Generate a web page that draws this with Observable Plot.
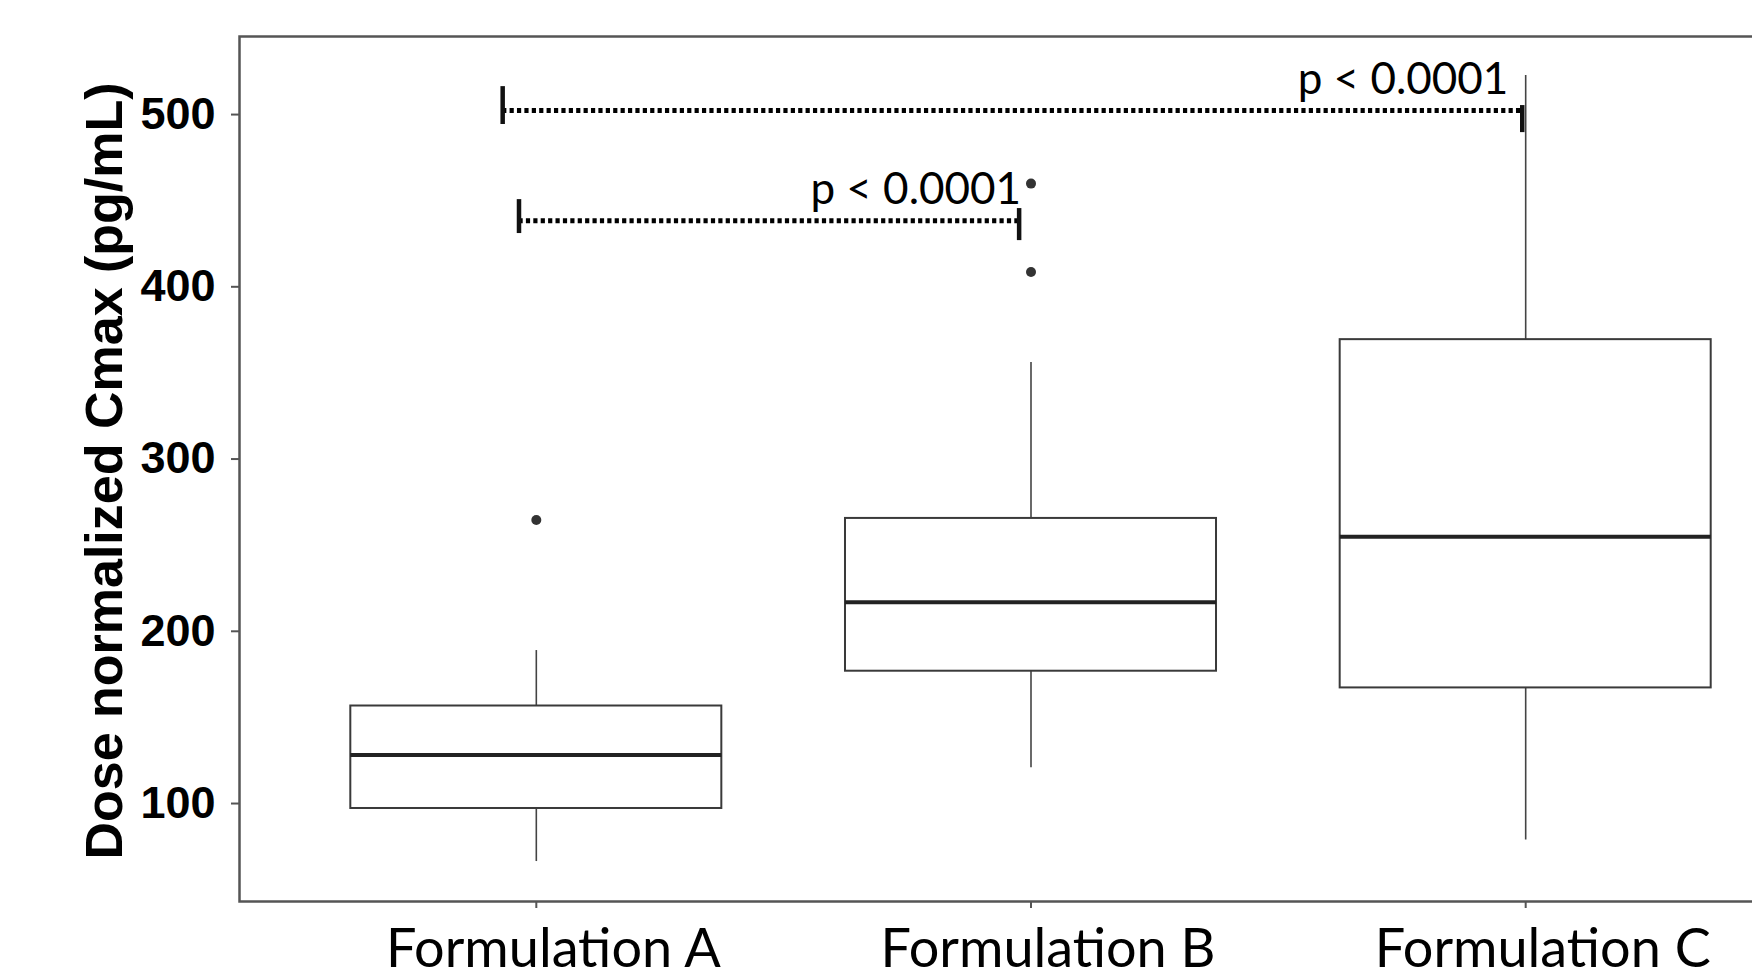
<!DOCTYPE html>
<html>
<head>
<meta charset="utf-8">
<script src="https://cdn.jsdelivr.net/npm/d3@7"></script>
<script src="https://cdn.jsdelivr.net/npm/@observablehq/plot@0.6"></script>
<style>
  html, body { margin: 0; padding: 0; background: #fff; overflow: hidden; }
  #chart svg { display: block; overflow: hidden; }
</style>
</head>
<body>
<div id="chart"></div>
<script>
// Categories and their positions on the discrete axis
const categories = ["Formulation A", "Formulation B", "Formulation C"];
const positions = [1, 2, 3];

// Box-plot summary statistics (pg/mL)
const whiskerLow  = [64.0, 118.5, 76.5];
const q1          = [94.8, 174.5, 164.8];
const median      = [125.8, 214.5, 252.5];
const q3          = [154.3, 263.2, 367.0];
const whiskerHigh = [186.5, 353.7, 520.3];

// Outliers
const outlierGroup = [1, 2, 2];
const outlierValue = [262.3, 406.3, 457.6];

// Y tick values
const yTicks = [100, 200, 300, 400, 500];
const yTitle = "Dose normalized Cmax (pg/mL)";

// Significance brackets (x in category units, y in pg/mL)
const bracketFrom   = [0.932, 0.965];
const bracketTo     = [2.993, 1.976];
const bracketValue  = [500, 436.1];
const leftTickLow   = [491.9, 428.6];
const leftTickHigh  = [513.9, 448.3];
const rightTickLow  = [487.2, 424.5];
const rightTickHigh = [502.9, 443.1];
const bracketLabel  = ["p < 0.0001", "p < 0.0001"];
const labelX        = [2.965, 1.98];
const labelY        = [509.9, 446.0];

const idx = d3.range(categories.length);
const bIdx = d3.range(bracketLabel.length);
const oIdx = d3.range(outlierValue.length);

const boldSans = "'Liberation Sans', Arial, Helvetica, sans-serif";
const lightSans = "Lato, 'Open Sans', sans-serif";

const chart = Plot.plot({
  width: 1752,
  height: 978,
  marginLeft: 239,
  marginRight: -70,
  marginTop: 36,
  marginBottom: 77,
  style: {background: "#fff"},
  x: {domain: [0.4, 3.6], axis: null},
  y: {domain: [40.8, 543], axis: null},
  marks: [
    // whiskers
    Plot.ruleX(idx, {x: i => positions[i], y1: i => q3[i], y2: i => whiskerHigh[i], stroke: "#444", strokeWidth: 1.6}),
    Plot.ruleX(idx, {x: i => positions[i], y1: i => whiskerLow[i], y2: i => q1[i], stroke: "#444", strokeWidth: 1.6}),
    // boxes
    Plot.rect(idx, {x1: i => positions[i] - 0.375, x2: i => positions[i] + 0.375, y1: i => q1[i], y2: i => q3[i], fill: "#fff", stroke: "#3a3a3a", strokeWidth: 2}),
    // medians
    Plot.ruleY(idx, {y: i => median[i], x1: i => positions[i] - 0.375, x2: i => positions[i] + 0.375, stroke: "#222", strokeWidth: 4}),
    // outliers
    Plot.dot(oIdx, {x: i => outlierGroup[i], y: i => outlierValue[i], r: 5, fill: "#333", stroke: "none"}),
    // brackets
    Plot.ruleY(bIdx, {y: i => bracketValue[i], x1: i => bracketFrom[i], x2: i => bracketTo[i], stroke: "#000", strokeWidth: 5, strokeDasharray: "4.2,3.2"}),
    Plot.ruleX(bIdx, {x: i => bracketFrom[i], y1: i => leftTickLow[i], y2: i => leftTickHigh[i], stroke: "#111", strokeWidth: 4.5}),
    Plot.ruleX(bIdx, {x: i => bracketTo[i], y1: i => rightTickLow[i], y2: i => rightTickHigh[i], stroke: "#111", strokeWidth: 4.5}),
    Plot.text(bIdx, {x: i => labelX[i], y: i => labelY[i], text: i => bracketLabel[i], textAnchor: "end", lineAnchor: "bottom", fontSize: 44, fontFamily: lightSans, fill: "#000"}),
    // frame
    Plot.frame({stroke: "#555", strokeWidth: 2.5}),
    // y axis
    Plot.axisY(yTicks, {tickSize: 8, tickPadding: 16, fontSize: 45, fontWeight: "bold", fontFamily: boldSans, stroke: "#555", strokeWidth: 2, fill: "#000", dy: 4, label: null}),
    // x axis ticks
    Plot.axisX(positions, {tickSize: 7, stroke: "#555", strokeWidth: 2, tickFormat: () => "", label: null}),
    // x tick labels
    Plot.text(idx, {x: i => positions[i], text: i => categories[i], frameAnchor: "bottom", lineAnchor: "top", dy: 27, dx: 17, fontSize: 54, fontFamily: lightSans, fill: "#000"}),
    // y title
    Plot.text([yTitle], {frameAnchor: "left", textAnchor: "middle", dx: -134, dy: 2, rotate: -90, fontSize: 52, fontWeight: "bold", fontFamily: boldSans, fill: "#000"})
  ]
});

document.getElementById("chart").appendChild(chart);
</script>
</body>
</html>
